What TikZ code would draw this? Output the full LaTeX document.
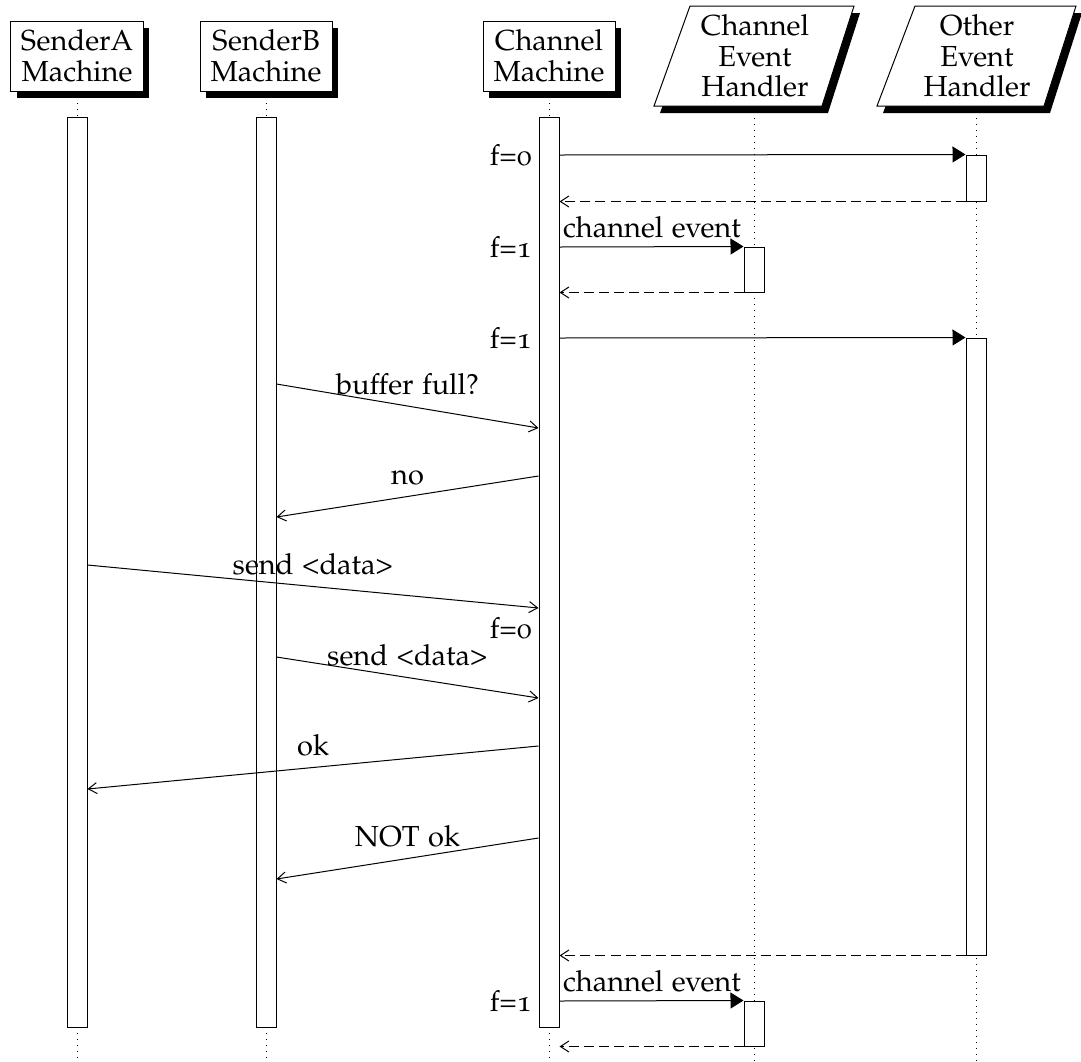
\documentclass[tikz,border=0pt]{standalone}
\usepackage[T1]{fontenc}
\usepackage[osf]{mathpazo}
\usetikzlibrary{arrows.meta,shadows}

\newcommand{\lblfont}{\fontsize{11.6}{12.2}\selectfont}

\tikzset{
  inst/.style={draw, fill=white, line width=0.4pt, inner sep=0pt,
    minimum width=52.8pt, minimum height=28pt, align=center, font=\lblfont,
    drop shadow={opacity=1, fill=black, shadow xshift=2.4pt, shadow yshift=-2.8pt}},
  handlertext/.style={inner sep=0pt, align=center, font=\lblfont},
  lifeline/.style={dotted, line width=0.4pt},
  actbox/.style={draw, fill=white, line width=0.4pt, inner sep=0pt, minimum width=8pt},
  callarrow/.style={line width=0.4pt, -{Triangle[length=5.2pt,width=6.4pt]}},
  msgarrow/.style={line width=0.4pt, -{Straight Barb[length=3.4pt,width=4.4pt]}},
  retarrow/.style={line width=0.4pt, dash pattern=on 4pt off 2pt,
    -{Straight Barb[length=3.4pt,width=4.4pt]}},
  mlabel/.style={midway, anchor=base, yshift=4.8pt, inner sep=0pt, font=\lblfont},
  clabel/.style={pos=0, anchor=base west, xshift=1.2pt, yshift=4pt, inner sep=0pt, font=\lblfont},
  flabel/.style={anchor=east, inner sep=2.6pt, font=\lblfont}
}

\begin{document}
\begin{tikzpicture}[x=0.4pt, y=-0.4pt]
\useasboundingbox (0,0) rectangle (1081,1061);

% lifelines
\coordinate (cehB) at (754,106);
\coordinate (othB) at (976,106);
\draw[lifeline] (77,91) -- (77,1061);
\draw[lifeline] (266,91) -- (266,1061);
\draw[lifeline] (549,91) -- (549,1061);
\draw[lifeline] (cehB) -- (754,1061);
\draw[lifeline] (othB) -- (976,1061);

% instance heads
\node[inst] (sa) at (77,56) {SenderA\\Machine};
\node[inst] (sb) at (266,56) {SenderB\\Machine};
\node[inst] (ch) at (549,56) {Channel\\Machine};

% event handler heads (parallelograms with shadow)
\fill[black] (696,13) -- (860,13) -- (828,113) -- (660,113) -- cycle;
\filldraw[fill=white, line width=0.4pt] (690,6) -- (854,6) -- (822,106) -- (654,106) -- cycle;
\node[handlertext] (ceh) at (755,56) {Channel\\Event\\Handler};

\fill[black] (921,13) -- (1082,13) -- (1050,113) -- (883,113) -- cycle;
\filldraw[fill=white, line width=0.4pt] (915,6) -- (1076,6) -- (1044,106) -- (877,106) -- cycle;
\node[handlertext] (oeh) at (977,56) {Other\\Event\\Handler};

% activation boxes
\node[actbox, minimum height=363.6pt] (aA) at (77,572.5) {};
\node[actbox, minimum height=363.6pt] (aB) at (266,572.5) {};
\node[actbox, minimum height=363.6pt] (aC) at (549,572.5) {};
\node[actbox, minimum height=18.4pt] (o1) at (976,178) {};
\node[actbox, minimum height=18pt] (e1) at (754,269.5) {};
\node[actbox, minimum height=246.8pt] (o2) at (976,646.5) {};
\node[actbox, minimum height=18pt] (e2) at (754,1023.5) {};

% messages
\draw[callarrow] (aC.east |- 0,155) -- (o1.north west);
\node[flabel] at (aC.west |- 0,155) {f=0};
\draw[retarrow] (o1.south west) -- (aC.east |- o1.south);

\draw[callarrow] (aC.east |- 0,247) -- (e1.north west) node[clabel] {channel event};
\node[flabel] at (aC.west |- 0,247) {f=1};
\draw[retarrow] (e1.south west) -- (aC.east |- e1.south);

\draw[callarrow] (aC.east |- 0,338) -- (o2.north west);
\node[flabel] at (aC.west |- 0,338) {f=1};

\draw[msgarrow] (aB.east |- 0,384) -- (aC.west |- 0,428) node[mlabel] {buffer full?};
\draw[msgarrow] (aC.west |- 0,476) -- (aB.east |- 0,517) node[mlabel] {no};
\draw[msgarrow] (aA.east |- 0,565) -- (aC.west |- 0,608) node[mlabel] {send <data>};
\node[flabel] at (aC.west |- 0,628) {f=0};
\draw[msgarrow] (aB.east |- 0,657) -- (aC.west |- 0,698) node[mlabel] {send <data>};
\draw[msgarrow] (aC.west |- 0,746) -- (aA.east |- 0,789) node[mlabel] {ok};
\draw[msgarrow] (aC.west |- 0,838) -- (aB.east |- 0,879) node[mlabel] {NOT ok};

\draw[retarrow] (o2.south west) -- (aC.east |- o2.south);

\draw[callarrow] (aC.east |- 0,1001) -- (e2.north west) node[clabel] {channel event};
\node[flabel] at (aC.west |- 0,1001) {f=1};
\draw[retarrow] (e2.south west) -- (aC.east |- e2.south);
\end{tikzpicture}
\end{document}
